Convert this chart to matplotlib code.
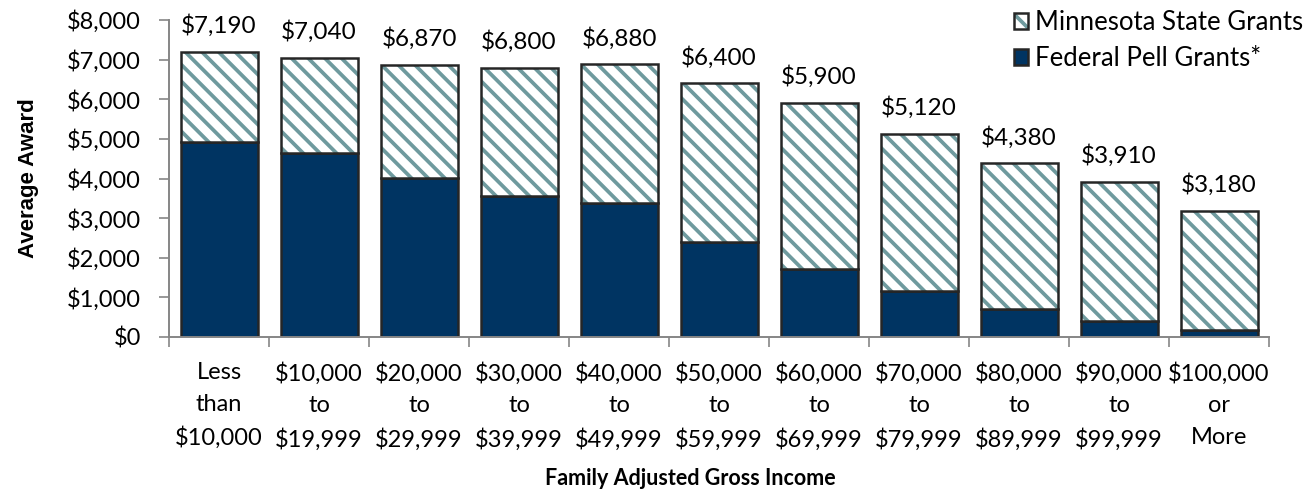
import numpy as np
import matplotlib
matplotlib.use("Agg")
import matplotlib.pyplot as plt
from matplotlib.ticker import FuncFormatter, FixedLocator
from matplotlib.patches import Patch
from matplotlib.legend_handler import HandlerTuple

plt.rcParams['font.family'] = ['Lato', 'DejaVu Sans']
plt.rcParams['hatch.linewidth'] = 2.7

# categorias de ingreso
categories = ["Less\nthan\n$10,000", "$10,000\nto\n$19,999", "$20,000\nto\n$29,999",
              "$30,000\nto\n$39,999", "$40,000\nto\n$49,999", "$50,000\nto\n$59,999",
              "$60,000\nto\n$69,999", "$70,000\nto\n$79,999", "$80,000\nto\n$89,999",
              "$90,000\nto\n$99,999", "$100,000\nor\nMore"]
totals = [7190, 7040, 6870, 6800, 6880, 6400, 5900, 5120, 4380, 3910, 3180]
pell = [4920, 4650, 4020, 3560, 3380, 2400, 1720, 1150, 700, 400, 180]
state = [t - p for t, p in zip(totals, pell)]

navy = '#003462'
hatch_col = '#6f9a9e'
edge = '#262626'
rayas = '\\\\'

fig = plt.figure(figsize=(13.15, 4.95), dpi=100)
ax = fig.add_axes([169/1315, 1 - 337/495, 1100/1315, 317/495])

x = np.arange(len(categories))
w = 0.77
ax.bar(x, pell, w, color=navy, edgecolor=edge, linewidth=1.8)
# capa rayada + contorno encima
ax.bar(x, state, w, bottom=pell, color='white', edgecolor=hatch_col, linewidth=0, hatch=rayas)
ax.bar(x, state, w, bottom=pell, color='none', edgecolor=edge, linewidth=1.8)

# etiquetas de total
for xi, t in zip(x, totals):
    ax.text(xi, t + 480, "${:,}".format(t), ha='center', va='baseline', fontsize=17.5)

ax.set_xlim(-0.5, len(categories) - 0.5)
ax.set_ylim(0, 8000)
ax.set_yticks(np.arange(0, 8001, 1000))
ax.yaxis.set_major_formatter(FuncFormatter(lambda v, p: "${:,.0f}".format(v)))
ax.set_xticks(x)
ax.set_xticklabels(categories, fontsize=17, linespacing=1.62)
ax.xaxis.set_minor_locator(FixedLocator(np.arange(-0.5, len(categories), 1)))
ax.tick_params(axis='x', which='major', length=0, pad=18)
ax.tick_params(axis='x', which='minor', length=7, direction='out', color='#868686', width=1.2)
ax.tick_params(axis='y', labelsize=17, length=7, color='#868686', width=1.2, pad=13)

for s in ['top', 'right']:
    ax.spines[s].set_visible(False)
for s in ['left', 'bottom']:
    ax.spines[s].set_color('#868686')
    ax.spines[s].set_linewidth(1.4)

ax.set_ylabel('Average Award', fontsize=16, fontweight='bold', family='Liberation Sans', labelpad=20)
ax.set_xlabel('Family Adjusted Gross Income', fontsize=15.5, fontweight='bold')
ax.xaxis.set_label_coords((690 - 169) / 1100, -131 / 317)

h_state = (Patch(facecolor='white', edgecolor=hatch_col, linewidth=0, hatch=rayas),
           Patch(facecolor='none', edgecolor=edge, linewidth=1.8))
h_pell = Patch(facecolor=navy, edgecolor=edge, linewidth=1.8)
ax.legend([h_state, h_pell], ['Minnesota State Grants', 'Federal Pell Grants*'],
          handler_map={tuple: HandlerTuple(ndivide=1, pad=0)},
          loc='upper right', bbox_to_anchor=(1308/1315, 1 - 5/495), bbox_transform=fig.transFigure,
          frameon=False, fontsize=18.5, handlelength=0.55, handleheight=0.55,
          handletextpad=0.25, labelspacing=0.42, borderaxespad=0.1, borderpad=0.1)

fig.savefig("out.png", dpi=100)
